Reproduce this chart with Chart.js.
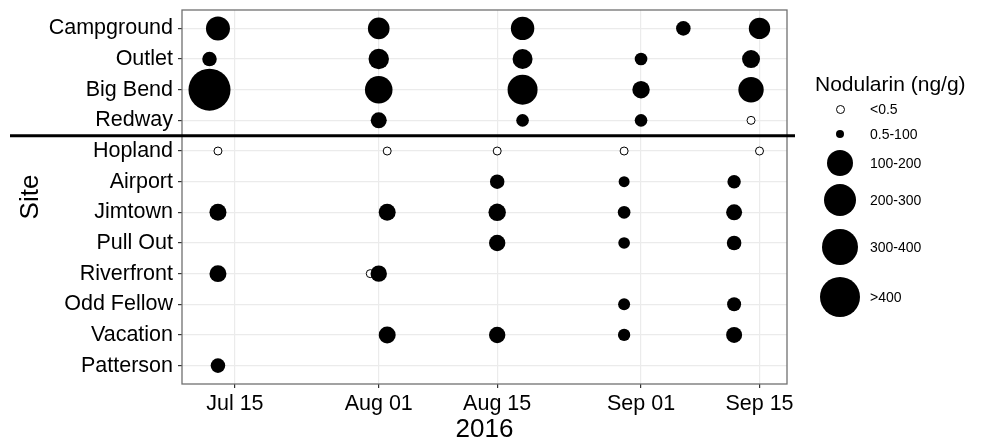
<!DOCTYPE html>
<html>
<head>
<meta charset="utf-8">
<script src="https://cdn.jsdelivr.net/npm/chart.js@4.4.1/dist/chart.umd.min.js"></script>
<style>
  body { margin: 0; background: #fff; font-family: "Liberation Sans", Arial, sans-serif; }
  #wrap { position: relative; width: 983px; height: 443px; }
  #legend { position: absolute; left: 0; top: 0; width: 983px; height: 443px; pointer-events: none; }
  .lg-title { position: absolute; left: 815px; top: 72px; font-size: 21px; line-height: 24px; color: #000; white-space: nowrap; }
  .lg-key { position: absolute; border-radius: 50%; box-sizing: border-box; }
  .lg-label { position: absolute; left: 870px; font-size: 14px; line-height: 16px; color: #000; white-space: nowrap; }
</style>
</head>
<body>
<div id="wrap">
  <canvas id="chart" width="983" height="443"></canvas>
  <div id="legend"></div>
</div>
<script>
// sites, top to bottom
const sites = ['Campground', 'Outlet', 'Big Bend', 'Redway', 'Hopland', 'Airport',
               'Jimtown', 'Pull Out', 'Riverfront', 'Odd Fellow', 'Vacation', 'Patterson'];
const dividerBetween = ['Redway', 'Hopland'];

// detected samples (2016), nodularin in ng/g
const detectSite = [
  'Campground', 'Campground', 'Campground', 'Campground', 'Campground',
  'Outlet', 'Outlet', 'Outlet', 'Outlet', 'Outlet',
  'Big Bend', 'Big Bend', 'Big Bend', 'Big Bend', 'Big Bend',
  'Redway', 'Redway', 'Redway',
  'Airport', 'Airport', 'Airport',
  'Jimtown', 'Jimtown', 'Jimtown', 'Jimtown', 'Jimtown',
  'Pull Out', 'Pull Out', 'Pull Out',
  'Riverfront', 'Riverfront',
  'Odd Fellow', 'Odd Fellow',
  'Vacation', 'Vacation', 'Vacation', 'Vacation',
  'Patterson'
];
const detectDate = [
  '07-13', '08-01', '08-18', '09-06', '09-15',
  '07-12', '08-01', '08-18', '09-01', '09-14',
  '07-12', '08-01', '08-18', '09-01', '09-14',
  '08-01', '08-18', '09-01',
  '08-15', '08-30', '09-12',
  '07-13', '08-02', '08-15', '08-30', '09-12',
  '08-15', '08-30', '09-12',
  '07-13', '08-01',
  '08-30', '09-12',
  '08-02', '08-15', '08-30', '09-12',
  '07-13'
];
const detectNgG = [
  144, 117, 137, 53, 114,
  53, 104, 100, 40, 81,
  441, 190, 225, 76, 161,
  64, 40, 40,
  52, 30, 45,
  72, 72, 76, 40, 64,
  67, 34, 53,
  72, 67,
  36, 49,
  72, 67, 38, 64,
  53
];

// below detection (<0.5 ng/g)
const ndSite = ['Redway', 'Hopland', 'Hopland', 'Hopland', 'Hopland', 'Hopland', 'Riverfront'];
const ndDate = ['09-14', '07-13', '08-02', '08-15', '08-30', '09-15', '07-31'];

// x axis
const tickDates = ['07-15', '08-01', '08-15', '09-01', '09-15'];
const tickLabels = ['Jul 15', 'Aug 01', 'Aug 15', 'Sep 01', 'Sep 15'];

// legend
const legendLabels = ['<0.5', '0.5-100', '100-200', '200-300', '300-400', '>400'];
const legendKeyNgG = [null, 20, 180, 260, 340, 420];

function dayOf(md) {
  const [m, d] = md.split('-').map(Number);
  return (Date.UTC(2016, m - 1, d) - Date.UTC(2016, 0, 0)) / 864e5;
}
function yOf(site) { return sites.length - sites.indexOf(site); }
function radiusOf(v) { return Math.sqrt(v); }

const allDays = detectDate.concat(ndDate).map(dayOf);
const firstDay = Math.min(...allDays), lastDay = Math.max(...allDays);
const pad = (lastDay - firstDay) * 0.05;

const detectPoints = detectSite.map((s, i) => ({ x: dayOf(detectDate[i]), y: yOf(s), v: detectNgG[i] }));
const ndPoints = ndSite.map((s, i) => ({ x: dayOf(ndDate[i]), y: yOf(s) }));

const FONT = '"Liberation Sans", Arial, sans-serif';

const panelFrame = {
  id: 'panelFrame',
  afterDatasetsDraw(chart) {
    const { ctx, chartArea: a, scales: { y } } = chart;
    ctx.save();
    ctx.strokeStyle = '#707070';
    ctx.lineWidth = 1.3;
    ctx.strokeRect(a.left, a.top, a.right - a.left, a.bottom - a.top);
    const yy = y.getPixelForValue((yOf(dividerBetween[0]) + yOf(dividerBetween[1])) / 2);
    ctx.strokeStyle = '#000';
    ctx.lineWidth = 3;
    ctx.beginPath();
    ctx.moveTo(10, yy);
    ctx.lineTo(a.right + 8, yy);
    ctx.stroke();
    ctx.restore();
  }
};

new Chart(document.getElementById('chart'), {
  type: 'scatter',
  data: {
    datasets: [
      {
        label: '0.5+',
        data: detectPoints,
        order: 0,
        backgroundColor: '#000',
        borderWidth: 0,
        pointRadius: ctx => radiusOf(ctx.raw.v)
      },
      {
        label: '<0.5',
        data: ndPoints,
        order: 1,
        backgroundColor: '#fff',
        borderColor: '#000',
        borderWidth: 1,
        pointRadius: 4
      }
    ]
  },
  options: {
    responsive: false,
    animation: false,
    events: [],
    layout: { autoPadding: false, padding: { left: 0, right: 196, top: 10, bottom: 0 } },
    plugins: { legend: { display: false }, tooltip: { enabled: false } },
    scales: {
      x: {
        type: 'linear',
        min: firstDay - pad,
        max: lastDay + pad,
        afterBuildTicks: axis => { axis.ticks = tickDates.map(d => ({ value: dayOf(d) })); },
        afterFit: axis => { axis.height = 59; },
        grid: { color: '#ebebeb', lineWidth: 1.2, tickColor: '#333', tickLength: 4 },
        border: { display: false },
        ticks: {
          autoSkip: false, maxRotation: 0, padding: 3, color: '#000',
          font: { family: FONT, size: 21.5 },
          callback: (v, i) => tickLabels[i]
        },
        title: {
          display: true, text: '2016', color: '#000',
          font: { family: FONT, size: 26, lineHeight: 1 },
          padding: { top: 0, bottom: 0 }
        }
      },
      y: {
        type: 'linear',
        min: 0.4,
        max: sites.length + 0.6,
        afterBuildTicks: axis => { axis.ticks = sites.map((s, i) => ({ value: i + 1 })); },
        afterFit: axis => { axis.width = 182; },
        grid: { color: '#ebebeb', lineWidth: 1.2, tickColor: '#333', tickLength: 4 },
        border: { display: false },
        ticks: {
          autoSkip: false, padding: 5, color: '#000',
          // small lineHeight keeps the label overflow from pushing the panel down
          font: { family: FONT, size: 21.5, lineHeight: 0.4 },
          callback: v => sites[sites.length - v]
        },
        title: {
          display: true, text: 'Site', color: '#000',
          font: { family: FONT, size: 26, lineHeight: 1 },
          padding: { top: 18, bottom: 0 }
        }
      }
    }
  },
  plugins: [panelFrame]
});

// size legend
const legendRowY = [109, 134, 163, 200, 247, 297];
const legendEl = document.getElementById('legend');
legendEl.innerHTML = '<div class="lg-title">Nodularin (ng/g)</div>';
legendLabels.forEach((lab, i) => {
  const v = legendKeyNgG[i];
  const r = v === null ? 4.5 : radiusOf(v);
  const key = document.createElement('div');
  key.className = 'lg-key';
  key.style.width = key.style.height = (2 * r) + 'px';
  key.style.left = (840 - r) + 'px';
  key.style.top = (legendRowY[i] - r) + 'px';
  key.style.background = v === null ? '#fff' : '#000';
  if (v === null) key.style.border = '1px solid #000';
  legendEl.appendChild(key);
  const text = document.createElement('div');
  text.className = 'lg-label';
  text.textContent = lab;
  text.style.top = (legendRowY[i] - 8) + 'px';
  legendEl.appendChild(text);
});
</script>
</body>
</html>
